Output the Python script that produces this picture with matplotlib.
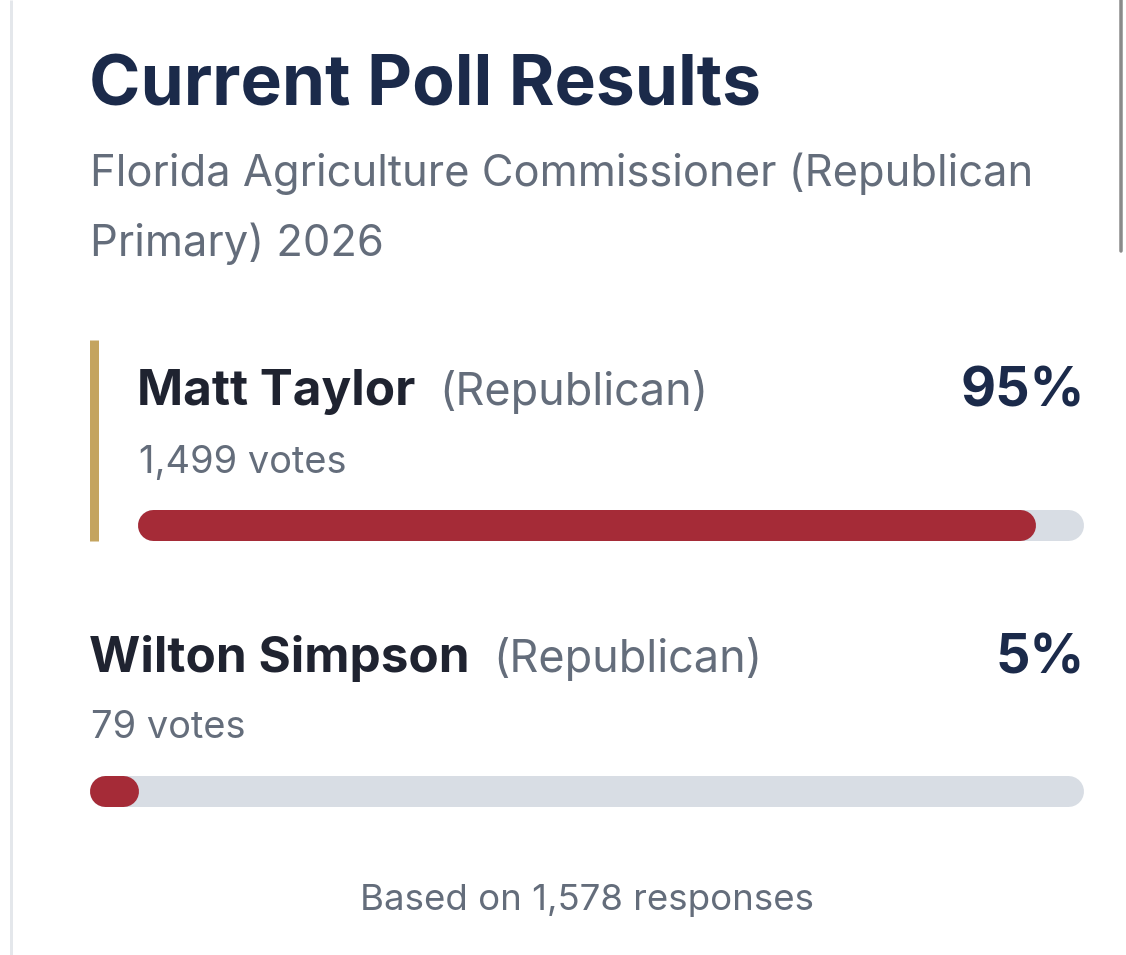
import matplotlib
matplotlib.use("Agg")
import matplotlib.pyplot as plt

# ---- data ----
title = "Current Poll Results"
subtitle_lines = ["Florida Agriculture Commissioner (Republican", "Primary) 2026"]
candidates = ["Matt Taylor", "Wilton Simpson"]
parties = ["(Republican)", "(Republican)"]
votes = [1499, 79]
percents = [95, 5]
total_responses = 1578

# ---- style ----
NAVY = "#1b2a4a"
DARK = "#1f2330"
GRAY = "#646d7b"
RED = "#a52b37"
TRACK = "#d8dde4"
GOLD = "#c4a45f"
FONT = "Inter"

W, H = 1126, 955
fig = plt.figure(figsize=(W / 100, H / 100), dpi=100)
ax = fig.add_axes([0, 0, 1, 1])
ax.set_xlim(0, W)
ax.set_ylim(H, 0)
ax.axis("off")

px = 72 / 100  # px -> pt

# page chrome
ax.plot([11.3, 11.3], [0, H], color="#e4e7eb", lw=3 * px, solid_capstyle="butt")
ax.plot([1120.5, 1120.5], [0, 251], color="#8a8a8a", lw=3.5 * px, solid_capstyle="round")

# title + subtitle
ax.text(89, 106, title, fontsize=69.5 * px, fontweight="bold", color=NAVY,
        family=FONT, va="baseline", ha="left")
for i, line in enumerate(subtitle_lines):
    ax.text(90, 186 + i * 70, line, fontsize=43.5 * px, color=GRAY,
            family=FONT, va="baseline", ha="left")

# rows
rows = [
    dict(x0=137, name_y=405, votes_y=473, bar_y=524.5, highlight=True),
    dict(x0=89, name_y=672, votes_y=738, bar_y=790.5, highlight=False),
]
x_right = 1083
bar_h = 31

for cand, party, v, p, r in zip(candidates, parties, votes, percents, rows):
    x0 = r["x0"]
    if r["highlight"]:
        ax.plot([93.5, 93.5], [340, 541], color=GOLD, lw=9 * px, solid_capstyle="butt")
    t = ax.text(x0, r["name_y"], cand, fontsize=49.5 * px, fontweight="bold",
                color=DARK, family=FONT, va="baseline", ha="left")
    fig.canvas.draw()
    bb = t.get_window_extent()
    ax.text(bb.x1 + 24, r["name_y"], party, fontsize=45 * px, color=GRAY,
            family=FONT, va="baseline", ha="left")
    ax.text(1085, r["name_y"] + 1, f"{p}%", fontsize=54 * px, fontweight="bold",
            color=NAVY, family=FONT, va="baseline", ha="right")
    ax.text(x0 + 2, r["votes_y"], f"{v:,} votes", fontsize=38 * px, color=GRAY,
            family=FONT, va="baseline", ha="left")
    # track (round-capped line: caps add bar_h/2 at each end)
    half = bar_h / 2
    ax.plot([x0 + half, x_right - half], [r["bar_y"], r["bar_y"]], color=TRACK,
            lw=bar_h * px, solid_capstyle="round")
    fill_end = x0 + (x_right - x0) * p / 100
    ax.plot([x0 + half, max(fill_end - half, x0 + half + 0.01)], [r["bar_y"], r["bar_y"]],
            color=RED, lw=bar_h * px, solid_capstyle="round")

ax.text(587, 910, f"Based on {total_responses:,} responses", fontsize=36.6 * px,
        color=GRAY, family=FONT, va="baseline", ha="center")

fig.savefig("out.png", dpi=100, facecolor="white")
